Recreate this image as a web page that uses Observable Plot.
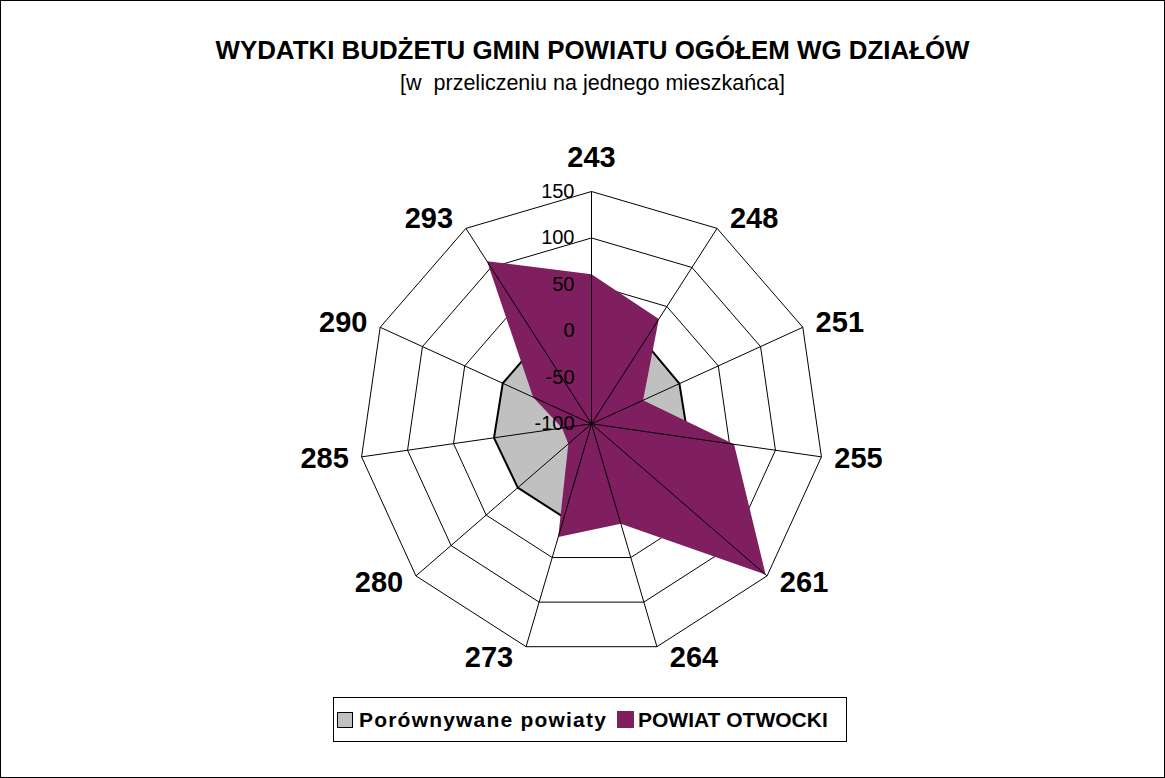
<!DOCTYPE html>
<html>
<head>
<meta charset="utf-8">
<script src="https://cdn.jsdelivr.net/npm/d3@7"></script>
<script src="https://cdn.jsdelivr.net/npm/@observablehq/plot@0.6"></script>
<style>
  html, body { margin: 0; padding: 0; background: #fff; }
  #wrap { position: relative; width: 1165px; height: 778px; overflow: hidden; font-family: Arial, "Liberation Sans", sans-serif; background: #fff; }
  #frame { position: absolute; left: 0; top: 0; width: 1165px; height: 778px; box-sizing: border-box; border: 1px solid #000; }
  #title { position: absolute; left: 10px; width: 1165px; top: 38px; text-align: center; font-size: 25.9px; font-weight: bold; line-height: 1; color: #000; }
  #subtitle { position: absolute; left: 10px; width: 1165px; top: 73px; text-align: center; font-size: 21.5px; line-height: 1; color: #000; }
  #chart { position: absolute; left: 0; top: 100px; }
  #legend { position: absolute; left: 333px; top: 697px; width: 514px; height: 45px; box-sizing: border-box; border: 1px solid #000; display: flex; align-items: center; padding-left: 3px; font-size: 21px; font-weight: bold; color: #000; }
  .sw { display: inline-block; width: 16px; height: 16px; box-sizing: border-box; margin-right: 6px; }
  .item { display: flex; align-items: center; }
</style>
</head>
<body>
<div id="wrap">
  <div id="frame"></div>
  <div id="title">WYDATKI BUDŻETU GMIN POWIATU OGÓŁEM WG DZIAŁÓW</div>
  <div id="subtitle">[w&nbsp; przeliczeniu na jednego mieszkańca]</div>
  <div id="chart"></div>
  <div id="legend"></div>
</div>
<script>
// ---- data ----
const categories = ["243", "248", "251", "255", "261", "264", "273", "280", "285", "290", "293"];
const seriesNames = ["Porównywane powiaty", "POWIAT OTWOCKI"];
const porownywane = [5, 5, 4, 5, 5, 5, 5, 5, 6, 5, 5];
const otwocki = [61, 34, -39, 55, 148, 12, 27, -67, -68, -31, 108];
const tickValues = [-100, -50, 0, 50, 100, 150];
const seriesColors = ["#c0c0c0", "#7f1f5f"];

// ---- geometry helpers ----
const rMin = tickValues[0], rMax = tickValues[tickValues.length - 1];
const n = categories.length;
const R = 232.3;           // outer radius in px
const cx = 591, cy = 323.3; // centre within the svg
const ang = i => i * 2 * Math.PI / n;
const rad = v => (v - rMin) / (rMax - rMin);

function polygon(values, key) {
  const pts = values.map((v, i) => ({key, i, x: rad(v) * Math.sin(ang(i)), y: rad(v) * Math.cos(ang(i))}));
  pts.push({...pts[0]});
  return pts;
}

const rings = tickValues.slice(1).flatMap(t => polygon(categories.map(() => t), t));
const grayPoly = polygon(porownywane, seriesNames[0]);
const purplePoly = polygon(otwocki, seriesNames[1]);
const spokes = categories.map((c, i) => ({c, x: Math.sin(ang(i)), y: Math.cos(ang(i))}));

const labelData = categories.map((c, i) => {
  const s = Math.sin(ang(i)), co = Math.cos(ang(i));
  const top = Math.abs(s) < 0.1;
  return {
    c,
    x: s + (top ? 0 : Math.sign(s) * 37 / R),
    y: co + (top ? 34 / R : co * 11 / R)
  };
});

const chart = Plot.plot({
  width: 1165,
  height: 590,
  x: {domain: [-1, 1], range: [cx - R, cx + R], axis: null},
  y: {domain: [-1, 1], range: [cy + R, cy - R], axis: null},
  style: {fontFamily: 'Arial, "Liberation Sans", sans-serif', background: "transparent", overflow: "visible", color: "#000"},
  marks: [
    Plot.line(rings, {x: "x", y: "y", z: "key", stroke: "#000", strokeWidth: 1, curve: "linear", strokeLinejoin: "miter", strokeLinecap: "butt"}),
    Plot.line(grayPoly, {x: "x", y: "y", fill: seriesColors[0], stroke: "#000", strokeWidth: 2, strokeLinejoin: "miter"}),
    Plot.line(purplePoly, {x: "x", y: "y", fill: seriesColors[1], stroke: "none"}),
    Plot.link(spokes, {x1: () => 0, y1: () => 0, x2: "x", y2: "y", stroke: "#000", strokeWidth: 1}),
    Plot.text(tickValues, {x: () => -17 / R, y: t => rad(t), text: t => String(t), textAnchor: "end", fontSize: 20, fill: "#000"}),
    Plot.text(labelData, {x: "x", y: "y", text: "c", textAnchor: "middle", fontSize: 29, fontWeight: "bold", fill: "#000"})
  ]
});
document.getElementById("chart").appendChild(chart);

// ---- legend ----
const legend = document.getElementById("legend");
seriesNames.forEach((name, k) => {
  const item = document.createElement("div");
  item.className = "item";
  item.style.marginRight = k === 0 ? "10px" : "0";
  const sw = document.createElement("span");
  sw.className = "sw";
  sw.style.background = seriesColors[k];
  if (k === 0) sw.style.border = "1.5px solid #000";
  else { sw.style.width = "17px"; sw.style.height = "17px"; sw.style.marginRight = "4px"; }
  const tx = document.createElement("span");
  tx.textContent = name;
  if (k === 0) tx.style.letterSpacing = "1.2px";
  item.appendChild(sw);
  item.appendChild(tx);
  legend.appendChild(item);
});
</script>
</body>
</html>
